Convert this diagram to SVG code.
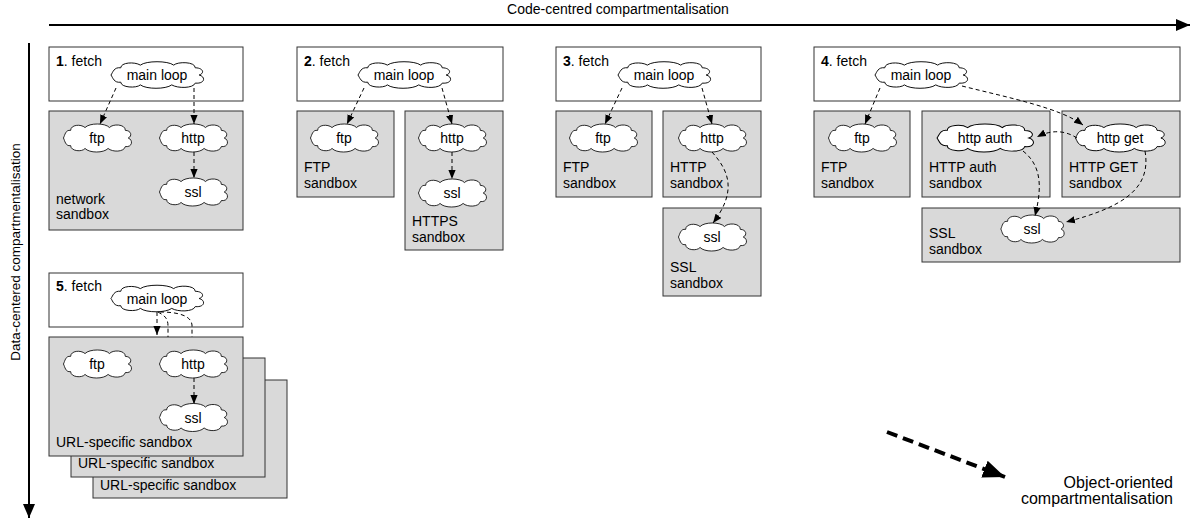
<svg xmlns="http://www.w3.org/2000/svg" xmlns:xlink="http://www.w3.org/1999/xlink" width="1192" height="520" viewBox="0 0 1192 520">
<style>
.t{font-family:"Liberation Sans",Arial,Helvetica,sans-serif;font-size:14px;fill:#000}
.m{text-anchor:middle}
.wb{fill:#fff;stroke:#333;stroke-width:1}
.gb{fill:#d9d9d9;stroke:#333;stroke-width:1}
.cl{fill:#fff;stroke:#000;stroke-width:1;vector-effect:non-scaling-stroke}
.dl{fill:none;stroke:#000;stroke-width:1;stroke-dasharray:4 3}
.ax{fill:none;stroke:#000;stroke-width:2}
</style>
<defs>
<path id="cloud" d="M-38,-8 C-38,-14 -24,-15 -18,-11 C-12,-16 10,-16 16,-11 C20,-15 38,-15 38,-8 C46,-8 48,-2 42,0 C49,2 48,10 38,9 C36,15 20,15 14,11 C8,16 -12,16 -18,11 C-22,15 -38,14 -38,8 C-45,9 -46,3 -48,0 C-46,-3 -45,-9 -38,-8 Z"/>
<marker id="ah" viewBox="0 0 10 8" refX="10" refY="4" markerWidth="9" markerHeight="8" markerUnits="userSpaceOnUse" orient="auto">
<path d="M0,0 L10,4 L0,8 Z" fill="#000"/>
</marker>
<marker id="ahAxis" viewBox="0 0 14 12" refX="14" refY="6" markerWidth="14" markerHeight="12" markerUnits="userSpaceOnUse" orient="auto">
<path d="M0,0 L14,6 L0,12 Z" fill="#000"/>
</marker>
<marker id="ahBig" viewBox="0 0 22 18" refX="22" refY="9" markerWidth="22" markerHeight="18" markerUnits="userSpaceOnUse" orient="auto">
<path d="M0,0 L22,9 L0,18 Z" fill="#000"/>
</marker>
</defs>

<!-- axes -->
<g id="axes">
<line class="ax" x1="49" y1="25" x2="1190" y2="25" marker-end="url(#ahAxis)"/>
<text class="t m" x="618" y="14">Code-centred compartmentalisation</text>
<line class="ax" x1="29" y1="43" x2="29" y2="518" marker-end="url(#ahAxis)"/>
<text class="t m" style="font-size:13.5px" transform="translate(20,252) rotate(-90)">Data-centered compartmentalisation</text>
</g>

<!-- Panel 1 -->
<g id="p1-fetch"><rect class="wb" x="49" y="47" width="194" height="54"/><text class="t" x="56" y="66"><tspan font-weight="bold">1</tspan>. fetch</text></g>
<g id="p1-network-sandbox"><rect class="gb" x="49" y="111" width="194" height="119"/><text class="t" x="56" y="204">network</text><text class="t" x="56" y="219">sandbox</text></g>
<g id="p1-main"><use xlink:href="#cloud" class="cl" transform="translate(158,75) scale(0.98,0.9)"/><text class="t m" x="157" y="80">main loop</text></g>
<g id="p1-ftp"><use xlink:href="#cloud" class="cl" transform="translate(98,138) scale(0.72,0.95)"/><text class="t m" x="97" y="143">ftp</text></g>
<g id="p1-http"><use xlink:href="#cloud" class="cl" transform="translate(194,138) scale(0.72,0.95)"/><text class="t m" x="193" y="143">http</text></g>
<g id="p1-ssl"><use xlink:href="#cloud" class="cl" transform="translate(194,192) scale(0.72,0.95)"/><text class="t m" x="193" y="197">ssl</text></g>

<!-- Panel 2 -->
<g id="p2-fetch"><rect class="wb" x="297" y="47" width="206" height="54"/><text class="t" x="304" y="66"><tspan font-weight="bold">2</tspan>. fetch</text></g>
<g id="p2-ftp-sandbox"><rect class="gb" x="297" y="111" width="97" height="86"/><text class="t" x="304" y="172">FTP</text><text class="t" x="304" y="188">sandbox</text></g>
<g id="p2-https-sandbox"><rect class="gb" x="405" y="111" width="98" height="139"/><text class="t" x="412" y="226">HTTPS</text><text class="t" x="412" y="242">sandbox</text></g>
<g id="p2-main"><use xlink:href="#cloud" class="cl" transform="translate(405,75) scale(0.98,0.9)"/><text class="t m" x="404" y="80">main loop</text></g>
<g id="p2-ftp"><use xlink:href="#cloud" class="cl" transform="translate(345,138) scale(0.72,0.95)"/><text class="t m" x="344" y="143">ftp</text></g>
<g id="p2-http"><use xlink:href="#cloud" class="cl" transform="translate(453,138) scale(0.72,0.95)"/><text class="t m" x="452" y="143">http</text></g>
<g id="p2-ssl"><use xlink:href="#cloud" class="cl" transform="translate(453,193) scale(0.72,0.95)"/><text class="t m" x="452" y="198">ssl</text></g>

<!-- Panel 3 -->
<g id="p3-fetch"><rect class="wb" x="556" y="47" width="205" height="54"/><text class="t" x="563" y="66"><tspan font-weight="bold">3</tspan>. fetch</text></g>
<g id="p3-ftp-sandbox"><rect class="gb" x="556" y="111" width="96" height="86"/><text class="t" x="563" y="172">FTP</text><text class="t" x="563" y="188">sandbox</text></g>
<g id="p3-http-sandbox"><rect class="gb" x="663" y="111" width="98" height="86"/><text class="t" x="670" y="172">HTTP</text><text class="t" x="670" y="188">sandbox</text></g>
<g id="p3-ssl-sandbox"><rect class="gb" x="663" y="208" width="98" height="88"/><text class="t" x="670" y="272">SSL</text><text class="t" x="670" y="288">sandbox</text></g>
<g id="p3-main"><use xlink:href="#cloud" class="cl" transform="translate(665,75) scale(0.98,0.9)"/><text class="t m" x="664" y="80">main loop</text></g>
<g id="p3-ftp"><use xlink:href="#cloud" class="cl" transform="translate(604,138) scale(0.72,0.95)"/><text class="t m" x="603" y="143">ftp</text></g>
<g id="p3-http"><use xlink:href="#cloud" class="cl" transform="translate(713,138) scale(0.72,0.95)"/><text class="t m" x="712" y="143">http</text></g>
<g id="p3-ssl"><use xlink:href="#cloud" class="cl" transform="translate(713,237) scale(0.72,0.95)"/><text class="t m" x="712" y="242">ssl</text></g>

<!-- Panel 4 -->
<g id="p4-fetch"><rect class="wb" x="814" y="47" width="366" height="54"/><text class="t" x="821" y="66"><tspan font-weight="bold">4</tspan>. fetch</text></g>
<g id="p4-ftp-sandbox"><rect class="gb" x="814" y="111" width="96" height="86"/><text class="t" x="821" y="172">FTP</text><text class="t" x="821" y="188">sandbox</text></g>
<g id="p4-auth-sandbox"><rect class="gb" x="922" y="111" width="128" height="86"/><text class="t" x="929" y="172">HTTP auth</text><text class="t" x="929" y="188">sandbox</text></g>
<g id="p4-get-sandbox"><rect class="gb" x="1062" y="111" width="118" height="86"/><text class="t" x="1069" y="172">HTTP GET</text><text class="t" x="1069" y="188">sandbox</text></g>
<g id="p4-ssl-sandbox"><rect class="gb" x="922" y="208" width="258" height="54"/><text class="t" x="929" y="238">SSL</text><text class="t" x="929" y="254">sandbox</text></g>
<g id="p4-main"><use xlink:href="#cloud" class="cl" transform="translate(922,75) scale(0.98,0.9)"/><text class="t m" x="921" y="80">main loop</text></g>
<g id="p4-ftp"><use xlink:href="#cloud" class="cl" transform="translate(863,138) scale(0.72,0.95)"/><text class="t m" x="862" y="143">ftp</text></g>
<g id="p4-http-auth"><use xlink:href="#cloud" class="cl" transform="translate(986,138) scale(1.02,0.95)"/><text class="t m" x="985" y="143">http auth</text></g>
<g id="p4-http-get"><use xlink:href="#cloud" class="cl" transform="translate(1121,138) scale(0.95,0.95)"/><text class="t m" x="1120" y="143">http get</text></g>
<g id="p4-ssl"><use xlink:href="#cloud" class="cl" transform="translate(1033,229) scale(0.67,0.95)"/><text class="t m" x="1032" y="234">ssl</text></g>

<!-- Panel 5 -->
<g id="p5-sandbox-3"><rect class="gb" x="93" y="380" width="194" height="118"/><text class="t" x="100" y="490">URL-specific sandbox</text></g>
<g id="p5-sandbox-2"><rect class="gb" x="71" y="358" width="194" height="119"/><text class="t" x="78" y="468">URL-specific sandbox</text></g>
<g id="p5-sandbox-1"><rect class="gb" x="49" y="337" width="194" height="119"/><text class="t" x="56" y="447">URL-specific sandbox</text></g>
<g id="p5-fetch"><rect class="wb" x="49" y="273" width="194" height="54"/><text class="t" x="56" y="291"><tspan font-weight="bold">5</tspan>. fetch</text></g>
<g id="p5-main"><use xlink:href="#cloud" class="cl" transform="translate(158,298.5) scale(0.98,0.9)"/><text class="t m" x="157" y="303.5">main loop</text></g>
<g id="p5-ftp"><use xlink:href="#cloud" class="cl" transform="translate(98,364) scale(0.72,0.95)"/><text class="t m" x="97" y="369">ftp</text></g>
<g id="p5-http"><use xlink:href="#cloud" class="cl" transform="translate(194,364) scale(0.72,0.95)"/><text class="t m" x="193" y="369">http</text></g>
<g id="p5-ssl"><use xlink:href="#cloud" class="cl" transform="translate(194,417.5) scale(0.72,0.95)"/><text class="t m" x="193" y="422.5">ssl</text></g>

<!-- connectors -->
<g id="connectors">
<path class="dl" d="M116,88 L100,124" marker-end="url(#ah)"/>
<path class="dl" d="M194,88 L194,124" marker-end="url(#ah)"/>
<path class="dl" d="M194,152 L194,178" marker-end="url(#ah)"/>

<path class="dl" d="M364,88 L347,124" marker-end="url(#ah)"/>
<path class="dl" d="M442,88 L452,124" marker-end="url(#ah)"/>
<path class="dl" d="M452,152 L452,179" marker-end="url(#ah)"/>

<path class="dl" d="M622,88 L605,124" marker-end="url(#ah)"/>
<path class="dl" d="M702,88 L712,124" marker-end="url(#ah)"/>
<path class="dl" d="M712,152 C728,170 738,190 713,223" marker-end="url(#ah)"/>

<path class="dl" d="M880,88 L865,124" marker-end="url(#ah)"/>
<path class="dl" d="M962,86 C1010,98 1060,108 1083,125" marker-end="url(#ah)"/>
<path class="dl" d="M1077,138 Q1058,126 1037,137" marker-end="url(#ah)"/>
<path class="dl" d="M1023,151 C1045,168 1040,195 1035,216" marker-end="url(#ah)"/>
<path class="dl" d="M1145,151 C1152,190 1120,208 1066,222" marker-end="url(#ah)"/>

<path class="dl" d="M157,312 L157,335" marker-end="url(#ah)"/>
<path class="dl" d="M158,312 C163,315 168,317 168,326 L168,337"/>
<path class="dl" d="M160,312 C170,312 191,313 192,325 L192,337"/>
<path class="dl" d="M194,378 L194,404" marker-end="url(#ah)"/>

<path fill="none" stroke="#000" stroke-width="4" stroke-dasharray="11 6" d="M887,432 L1005,477" marker-end="url(#ahBig)"/>
</g>

<g id="oo-label">
<text class="t" style="font-size:16px;text-anchor:end" x="1173" y="488">Object-oriented</text>
<text class="t" style="font-size:16px;text-anchor:end" x="1173" y="504">compartmentalisation</text>
</g>
</svg>
